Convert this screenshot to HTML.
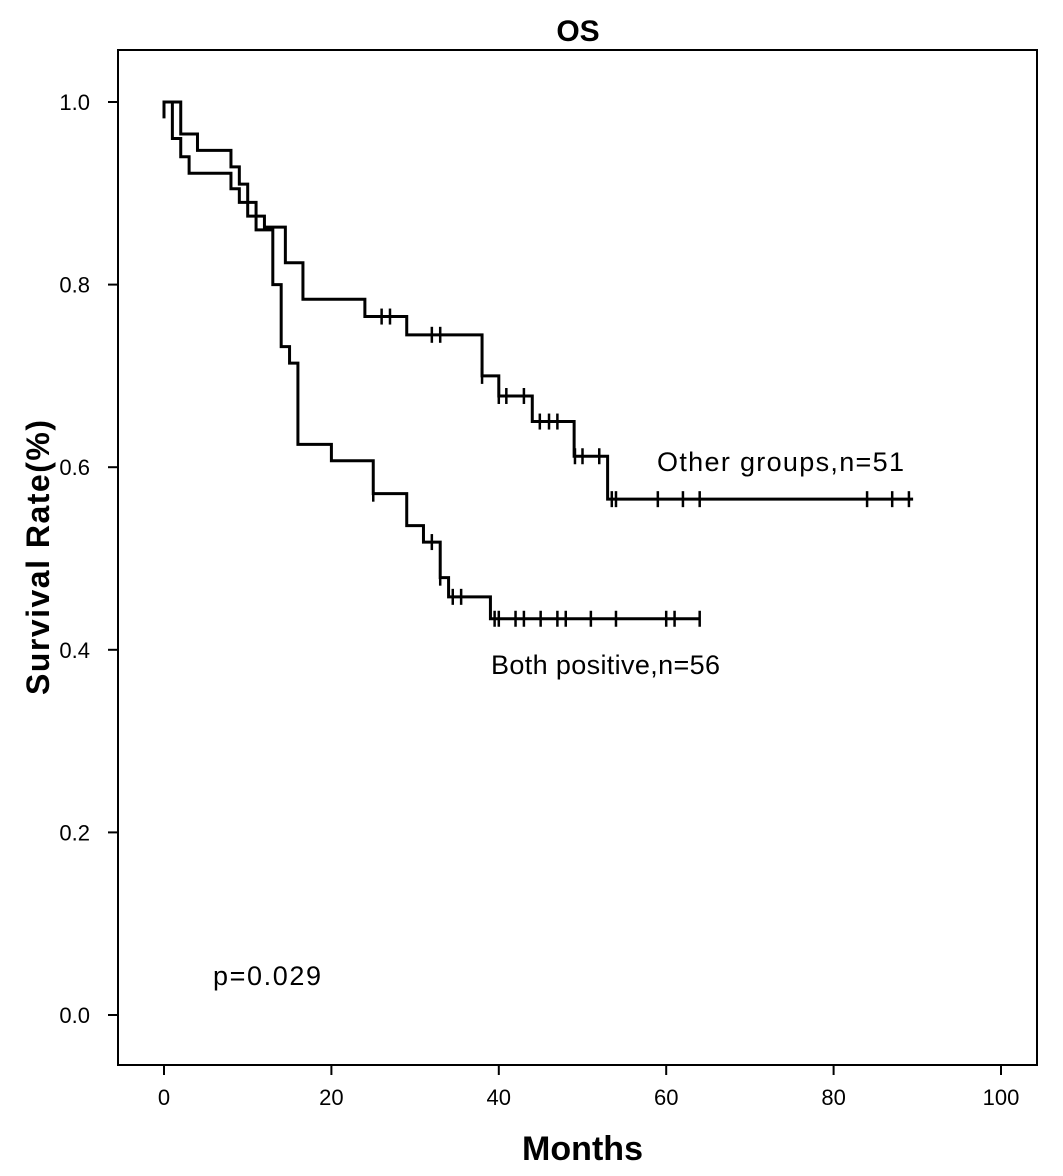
<!DOCTYPE html>
<html><head><meta charset="utf-8"><style>
body{margin:0;background:#fff;}
svg{display:block;font-family:"Liberation Sans",Arial,sans-serif;}
</style></head><body>
<svg id="chart" width="1063" height="1176">
<text x="578" y="41" text-anchor="middle" font-size="30" font-weight="bold">OS</text>
<rect x="118" y="50" width="919" height="1015" fill="none" stroke="#000" stroke-width="2"/>
<g id="axes"></g>
<g id="series"></g>
<text x="522" y="1160" textLength="121" font-size="34" font-weight="bold">Months</text>
<text transform="translate(49,695) rotate(-90)" textLength="275" font-size="32" font-weight="bold">Survival Rate(%)</text>
<text x="657" y="471" textLength="247" font-size="27">Other groups,n=51</text>
<text x="491" y="674" textLength="229" font-size="27">Both positive,n=56</text>
<text x="213" y="985" textLength="108" font-size="27">p=0.029</text>
</svg>
<script>
const xTicks=[0,20,40,60,80,100];
const yTicks=[0.0,0.2,0.4,0.6,0.8,1.0];
const otherTimes=[0,2,4,8,9,10,11,12,14.5,16.6,24,29,38,40,44,49,53,89.5];
const otherValues=[1.0,0.965,0.947,0.929,0.91,0.89,0.875,0.863,0.824,0.784,0.765,0.745,0.70,0.678,0.65,0.612,0.565,0.565];
const otherCensored=[26,27,32,33,38,40,40.9,43,44.9,46,47,49.1,50,52,53.5,54,59,62,64,84,87,89];
const bothTimes=[0,1,2,3,8,9,10,11,13,14,15,16,20,25,29,31,33,34,39,64];
const bothValues=[1.0,0.96,0.94,0.922,0.905,0.89,0.875,0.86,0.80,0.732,0.714,0.625,0.607,0.571,0.536,0.518,0.479,0.458,0.434,0.434];
const bothCensored=[25,32,33,34.5,35.5,39.5,40,42,43,45,47,48,51,54,60,61,64];
const X=m=>164+8.37*m, Y=v=>1015-913*v;
const NS="http://www.w3.org/2000/svg";
const ax=document.getElementById('axes'), se=document.getElementById('series');
function mk(t,a,p){const e=document.createElementNS(NS,t);for(const k in a)e.setAttribute(k,a[k]);p.appendChild(e);return e;}
xTicks.forEach(t=>{
  const l=mk('line',{x1:X(t),x2:X(t),y1:1065,y2:1075,stroke:'#000','stroke-width':2},ax);
  
  
  const s=mk('text',{x:X(t),y:1105,'text-anchor':'middle','font-size':22},ax);s.textContent=t;
  
  
});
yTicks.forEach(t=>{
  const l=mk('line',{x1:108,x2:118,y1:Y(t),y2:Y(t),stroke:'#000','stroke-width':2},ax);
  
  
  const s=mk('text',{x:90,y:Y(t)+8,'text-anchor':'end','font-size':22},ax);s.textContent=t.toFixed(1);
  
  
});
function valAt(ts,vs,m){let v=vs[0];for(let i=0;i<ts.length;i++)if(ts[i]<=m)v=vs[i];return v;}
function curve(ts,vs,cens,name,startV){
  let d=`M${X(0)},${Y(startV)} L${X(0)},${Y(vs[0])}`;
  for(let i=1;i<ts.length;i++){d+=` L${X(ts[i])},${Y(vs[i-1])} L${X(ts[i])},${Y(vs[i])}`;}
  const p=mk('path',{d:d,fill:'none',stroke:'#000','stroke-width':3},se);
  
  
  cens.forEach(c=>{const v=valAt(ts,vs,c);
    const l=mk('line',{x1:X(c),x2:X(c),y1:Y(v)-8,y2:Y(v)+8,stroke:'#000','stroke-width':2.5},se);
    
    
  });
}
curve(otherTimes,otherValues,otherCensored,'other-groups',1.0);
curve(bothTimes,bothValues,bothCensored,'both-positive',0.982);
</script>
</body></html>
